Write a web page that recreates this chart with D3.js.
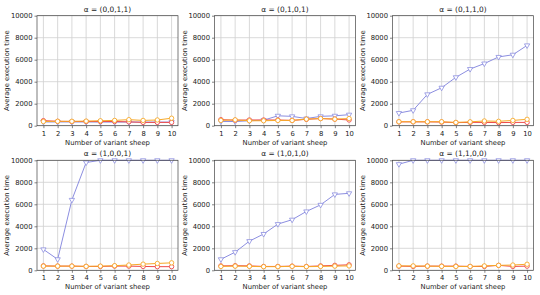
<!DOCTYPE html>
<html>
<head>
<meta charset="utf-8">
<script src="https://cdn.jsdelivr.net/npm/d3@7"></script>
<style>
  body { margin: 0; background: #fff; }
  text { font-family: "DejaVu Sans", sans-serif; fill: #222; }
</style>
</head>
<body>
<svg id="chart" width="540" height="295"></svg>
<script>
// data
var sheep = [1, 2, 3, 4, 5, 6, 7, 8, 9, 10];
var yTicks = [0, 2000, 4000, 6000, 8000, 10000];
var titles = ["α = (0,0,1,1)", "α = (0,1,0,1)", "α = (0,1,1,0)",
              "α = (1,0,0,1)", "α = (1,0,1,0)", "α = (1,1,0,0)"];

var blueSeries = [
    [340, 340, 340, 340, 330, 330, 330, 330, 330, 330],
    [380, 380, 450, 500, 900, 850, 650, 850, 900, 1000],
    [1150, 1400, 2850, 3450, 4400, 5150, 5650, 6250, 6450, 7300],
    [1900, 1000, 6400, 9800, 10000, 10000, 10000, 10000, 10000, 10000],
    [1000, 1650, 2650, 3300, 4200, 4600, 5350, 5950, 6900, 7000],
    [9650, 10000, 10000, 10000, 10000, 10000, 10000, 10000, 10000, 10000]
];
var redSeries = [
    [460, 400, 380, 380, 380, 380, 350, 300, 300, 300],
    [550, 500, 520, 520, 520, 480, 580, 650, 600, 520],
    [350, 350, 350, 330, 280, 300, 300, 280, 300, 300],
    [400, 380, 380, 350, 350, 380, 380, 350, 330, 330],
    [400, 420, 400, 350, 350, 380, 350, 400, 450, 500],
    [380, 350, 380, 380, 380, 350, 350, 450, 350, 380]
];
var orangeSeries = [
    [380, 400, 400, 420, 450, 480, 550, 480, 520, 680],
    [480, 530, 450, 450, 480, 480, 600, 650, 600, 650],
    [360, 360, 360, 360, 300, 350, 430, 400, 480, 580],
    [380, 380, 380, 360, 380, 420, 480, 560, 620, 680],
    [350, 380, 360, 330, 330, 360, 330, 350, 380, 400],
    [400, 400, 380, 360, 350, 350, 400, 450, 480, 550]
];

var colLeft = [37, 214.5, 392.5];
var rowTop = [15.7, 160.3];
var pw = 141, ph = 110;

var svg = d3.select("#chart");

function drawPanel(idx) {
    var col = idx % 3, row = Math.floor(idx / 3);
    var g = svg.append("g")
        .attr("transform", "translate(" + colLeft[col] + "," + rowTop[row] + ")");

    var x = d3.scaleLinear().domain([0.55, 10.45]).range([0, pw]);
    var y = d3.scaleLinear().domain([0, 10000]).range([ph, 0]);

    // grid
    g.append("g").selectAll("line").data(sheep).enter().append("line")
        .attr("x1", d => x(d)).attr("x2", d => x(d))
        .attr("y1", 0).attr("y2", ph)
        .attr("stroke", "#cfcfcf").attr("stroke-width", 0.8);
    g.append("g").selectAll("line").data(yTicks).enter().append("line")
        .attr("y1", d => y(d)).attr("y2", d => y(d))
        .attr("x1", 0).attr("x2", pw)
        .attr("stroke", "#cfcfcf").attr("stroke-width", 0.8);

    var xAxis = g.append("g").attr("transform", "translate(0," + ph + ")")
        .call(d3.axisBottom(x).tickValues(sheep).tickFormat(d3.format("d")).tickSize(2.5).tickPadding(2.5));
    var yAxis = g.append("g")
        .call(d3.axisLeft(y).tickValues(yTicks).tickFormat(d3.format("d")).tickSize(2.5).tickPadding(2));
    [xAxis, yAxis].forEach(function (a) {
        a.select(".domain").remove();
        a.selectAll("line").attr("stroke", "#333").attr("stroke-width", 0.6);
        a.selectAll("text").style("font-size", "6.8px").style("font-family", "DejaVu Sans").attr("fill", "#222");
    });

    var line = d3.line().x((d, i) => x(sheep[i])).y(d => y(d));

    function series(vals, color, marker) {
        g.append("path").datum(vals)
            .attr("d", line).attr("fill", "none")
            .attr("stroke", color).attr("stroke-width", 1);
        if (marker === "tri") {
            g.append("g").selectAll("path").data(vals).enter().append("path")
                .attr("transform", (d, i) => "translate(" + x(sheep[i]) + "," + y(d) + ") rotate(180)")
                .attr("d", d3.symbol().type(d3.symbolTriangle).size(12))
                .attr("fill", "#fff").attr("stroke", color).attr("stroke-width", 0.8);
        } else {
            g.append("g").selectAll("circle").data(vals).enter().append("circle")
                .attr("cx", (d, i) => x(sheep[i])).attr("cy", d => y(d))
                .attr("r", 2.2)
                .attr("fill", "#fff").attr("stroke", color).attr("stroke-width", 0.9);
        }
    }
    series(blueSeries[idx], "#8c8ee0", "tri");
    series(redSeries[idx], "#ee4a4a", "circle");
    series(orangeSeries[idx], "#f7a928", "circle");

    // frame
    g.append("rect").attr("width", pw).attr("height", ph)
        .attr("fill", "none").attr("stroke", "#444").attr("stroke-width", 0.7);

    g.append("text").attr("x", pw / 2).attr("y", -4)
        .attr("text-anchor", "middle").style("font-size", "7.4px").text(titles[idx]);
    g.append("text").attr("x", pw / 2).attr("y", ph + 19)
        .attr("text-anchor", "middle").style("font-size", "6.8px").text("Number of variant sheep");
    g.append("text")
        .attr("transform", "translate(-28," + (ph / 2) + ") rotate(-90)")
        .attr("text-anchor", "middle").style("font-size", "6.8px").text("Average execution time");
}

for (var i = 0; i < 6; i++) drawPanel(i);
</script>
</body>
</html>
